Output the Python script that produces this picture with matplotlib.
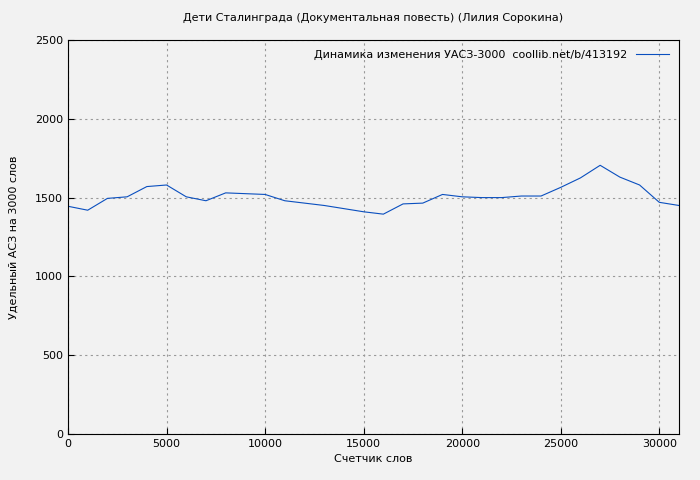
import matplotlib
matplotlib.use('Agg')
import matplotlib.pyplot as plt

words = list(range(0, 31001, 1000))
uasz = [1445, 1420, 1495, 1505, 1570, 1580, 1505, 1480, 1530, 1525, 1520, 1480,
        1465, 1450, 1430, 1410, 1395, 1460, 1465, 1520, 1505, 1500, 1500, 1510,
        1510, 1565, 1625, 1705, 1630, 1580, 1470, 1450]

fig = plt.figure(figsize=(7, 4.8), dpi=100, facecolor='#f2f2f2')
ax = fig.add_axes([68/700, 46/480, 611/700, 394/480], facecolor='#f2f2f2')
ax.plot(words, uasz, color='#0a4fbf', lw=0.8,
        label='Динамика изменения УАСЗ-3000  coollib.net/b/413192')
ax.set_xlim(0, 31000)
ax.set_ylim(0, 2500)
ax.set_xticks(range(0, 30001, 5000))
ax.set_yticks(range(0, 2501, 500))
ax.grid(True, color='#999999', linestyle=(0, (2, 3)), lw=0.8)
ax.tick_params(labelsize=8, direction='in', length=4)
ax.set_xlabel('Счетчик слов', fontsize=8)
ax.set_ylabel('Удельный АСЗ на 3000 слов', fontsize=8, labelpad=12)
ax.set_title('Дети Сталинграда (Документальная повесть) (Лилия Сорокина)', fontsize=8, pad=14)
ax.legend(loc='upper right', frameon=False, fontsize=8, markerfirst=False, handlelength=3)
fig.savefig('out.png', facecolor=fig.get_facecolor())
